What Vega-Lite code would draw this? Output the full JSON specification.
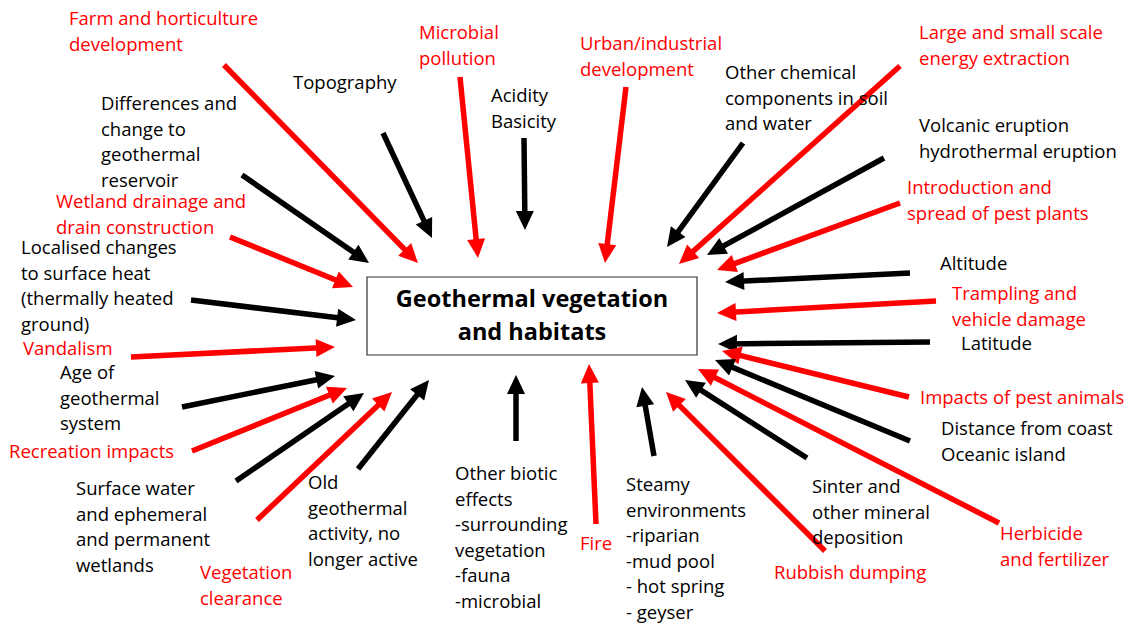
{
  "$schema": "https://vega.github.io/schema/vega-lite/v6.json",
  "width": 1133,
  "height": 624,
  "padding": 0,
  "autosize": {"type": "none"},
  "background": "white",
  "config": {"view": {"stroke": null}},
  "datasets": {
    "arrows": [
      {"label": "Farm and horticulture\ndevelopment", "kind": "human", "tx": 224, "ty": 65, "hx": 418, "hy": 263, "lx": 69, "ly": 11},
      {"label": "Topography", "kind": "natural", "tx": 383, "ty": 133, "hx": 432, "hy": 238, "lx": 293, "ly": 75},
      {"label": "Microbial\npollution", "kind": "human", "tx": 460, "ty": 77, "hx": 478, "hy": 258, "lx": 419, "ly": 25},
      {"label": "Acidity\nBasicity", "kind": "natural", "tx": 524, "ty": 138, "hx": 525, "hy": 230, "lx": 491, "ly": 88},
      {"label": "Urban/industrial\ndevelopment", "kind": "human", "tx": 626, "ty": 87, "hx": 605, "hy": 263, "lx": 580, "ly": 36},
      {"label": "Other chemical\ncomponents in soil\nand water", "kind": "natural", "tx": 743, "ty": 143, "hx": 667, "hy": 247, "lx": 725, "ly": 65},
      {"label": "Large and small scale\nenergy extraction", "kind": "human", "tx": 900, "ty": 66, "hx": 679, "hy": 264, "lx": 919, "ly": 25},
      {"label": "Volcanic eruption\nhydrothermal eruption", "kind": "natural", "tx": 884, "ty": 158, "hx": 707, "hy": 255, "lx": 919, "ly": 118},
      {"label": "Introduction and\nspread of pest plants", "kind": "human", "tx": 900, "ty": 203, "hx": 717, "hy": 270, "lx": 907, "ly": 180},
      {"label": "Altitude", "kind": "natural", "tx": 910, "ty": 273, "hx": 725, "hy": 282, "lx": 940, "ly": 256},
      {"label": "Trampling and\nvehicle damage", "kind": "human", "tx": 936, "ty": 301, "hx": 717, "hy": 313, "lx": 952, "ly": 286},
      {"label": "Latitude", "kind": "natural", "tx": 930, "ty": 342, "hx": 718, "hy": 344, "lx": 961, "ly": 336},
      {"label": "Impacts of pest animals", "kind": "human", "tx": 909, "ty": 397, "hx": 722, "hy": 351, "lx": 920, "ly": 390},
      {"label": "Distance from coast\nOceanic  island", "kind": "natural", "tx": 910, "ty": 441, "hx": 715, "hy": 360, "lx": 941, "ly": 421},
      {"label": "Herbicide\nand fertilizer", "kind": "human", "tx": 999, "ty": 523, "hx": 698, "hy": 369, "lx": 1000, "ly": 526},
      {"label": "Sinter and\nother mineral\ndeposition", "kind": "natural", "tx": 807, "ty": 458, "hx": 685, "hy": 380, "lx": 812, "ly": 479},
      {"label": "Rubbish dumping", "kind": "human", "tx": 825, "ty": 551, "hx": 666, "hy": 392, "lx": 774, "ly": 565},
      {"label": "Steamy\nenvironments\n-riparian\n-mud pool\n- hot spring\n- geyser", "kind": "natural", "tx": 654, "ty": 456, "hx": 642, "hy": 387, "lx": 626, "ly": 477},
      {"label": "Fire", "kind": "human", "tx": 596, "ty": 524, "hx": 589, "hy": 364, "lx": 580, "ly": 536},
      {"label": "Other biotic\neffects\n-surrounding\nvegetation\n-fauna\n-microbial", "kind": "natural", "tx": 516, "ty": 441, "hx": 516, "hy": 375, "lx": 455, "ly": 466},
      {"label": "Old\ngeothermal\nactivity, no\nlonger active", "kind": "natural", "tx": 358, "ty": 469, "hx": 429, "hy": 380, "lx": 308, "ly": 475},
      {"label": "Vegetation\nclearance", "kind": "human", "tx": 257, "ty": 520, "hx": 392, "hy": 392, "lx": 200, "ly": 565},
      {"label": "Surface water\nand ephemeral\nand permanent\nwetlands", "kind": "natural", "tx": 236, "ty": 481, "hx": 364, "hy": 393, "lx": 76, "ly": 481},
      {"label": "Recreation impacts", "kind": "human", "tx": 192, "ty": 451, "hx": 347, "hy": 388, "lx": 9, "ly": 444},
      {"label": "Age of\ngeothermal\nsystem", "kind": "natural", "tx": 182, "ty": 407, "hx": 335, "hy": 376, "lx": 60, "ly": 365},
      {"label": "Vandalism", "kind": "human", "tx": 131, "ty": 357, "hx": 335, "hy": 347, "lx": 23, "ly": 341},
      {"label": "Localised changes\nto surface heat\n(thermally heated\nground)", "kind": "natural", "tx": 191, "ty": 300, "hx": 356, "hy": 320, "lx": 21, "ly": 240},
      {"label": "Wetland drainage and\ndrain construction", "kind": "human", "tx": 230, "ty": 237, "hx": 353, "hy": 287, "lx": 56, "ly": 194},
      {"label": "Differences and\nchange to\ngeothermal\nreservoir", "kind": "natural", "tx": 242, "ty": 175, "hx": 369, "hy": 263, "lx": 101, "ly": 96}
    ],
    "box": [{"x1": 367, "y1": 277, "x2": 697, "y2": 355}],
    "title": [
      {"t": "Geothermal vegetation", "x": 532, "y": 300},
      {"t": "and habitats", "x": 532, "y": 333}
    ]
  },
  "layer": [
    {
      "data": {"name": "box"},
      "mark": {"type": "rect", "fill": "white", "stroke": "#333333", "strokeWidth": 1.2},
      "encoding": {
        "x": {"field": "x1", "type": "quantitative", "scale": {"domain": [0, 1133], "nice": false, "zero": false}, "axis": null},
        "x2": {"field": "x2"},
        "y": {"field": "y1", "type": "quantitative", "scale": {"domain": [0, 624], "nice": false, "zero": false, "reverse": true}, "axis": null},
        "y2": {"field": "y2"}
      }
    },
    {
      "data": {"name": "title"},
      "mark": {"type": "text", "font": "Open Sans", "fontSize": 23.5, "fontWeight": "bold", "align": "center", "baseline": "middle", "color": "black"},
      "encoding": {
        "x": {"field": "x", "type": "quantitative", "scale": {"domain": [0, 1133], "nice": false, "zero": false}, "axis": null},
        "y": {"field": "y", "type": "quantitative", "scale": {"domain": [0, 624], "nice": false, "zero": false, "reverse": true}, "axis": null},
        "text": {"field": "t"}
      }
    },
    {
      "data": {"name": "arrows"},
      "transform": [
        {"calculate": "sqrt(pow(datum.hx - datum.tx, 2) + pow(datum.hy - datum.ty, 2))", "as": "len"},
        {"calculate": "datum.hx - (datum.hx - datum.tx) / datum.len * 10", "as": "ex"},
        {"calculate": "datum.hy - (datum.hy - datum.ty) / datum.len * 10", "as": "ey"}
      ],
      "mark": {"type": "rule", "strokeWidth": 5.5, "strokeCap": "butt"},
      "encoding": {
        "x": {"field": "tx", "type": "quantitative", "scale": {"domain": [0, 1133], "nice": false, "zero": false}, "axis": null},
        "y": {"field": "ty", "type": "quantitative", "scale": {"domain": [0, 624], "nice": false, "zero": false, "reverse": true}, "axis": null},
        "x2": {"field": "ex"},
        "y2": {"field": "ey"},
        "color": {"field": "kind", "type": "nominal", "scale": {"domain": ["human", "natural"], "range": ["#ff0000", "#000000"]}, "legend": null}
      }
    },
    {
      "data": {"name": "arrows"},
      "transform": [
        {"calculate": "(atan2(datum.hx - datum.tx, -(datum.hy - datum.ty)) * 180 / PI + 360) % 360", "as": "ang"}
      ],
      "mark": {"type": "point", "shape": "M0,0L-0.95,2L0.95,2Z", "filled": true, "size": 361, "opacity": 1, "strokeWidth": 0},
      "encoding": {
        "x": {"field": "hx", "type": "quantitative", "scale": {"domain": [0, 1133], "nice": false, "zero": false}, "axis": null},
        "y": {"field": "hy", "type": "quantitative", "scale": {"domain": [0, 624], "nice": false, "zero": false, "reverse": true}, "axis": null},
        "angle": {"field": "ang", "type": "quantitative", "scale": null},
        "color": {"field": "kind", "type": "nominal", "scale": {"domain": ["human", "natural"], "range": ["#ff0000", "#000000"]}, "legend": null}
      }
    },
    {
      "data": {"name": "arrows"},
      "mark": {"type": "text", "font": "Open Sans", "fontSize": 18.5, "align": "left", "baseline": "top", "lineBreak": "\n", "lineHeight": 25.6, "dy": -1},
      "encoding": {
        "x": {"field": "lx", "type": "quantitative", "scale": {"domain": [0, 1133], "nice": false, "zero": false}, "axis": null},
        "y": {"field": "ly", "type": "quantitative", "scale": {"domain": [0, 624], "nice": false, "zero": false, "reverse": true}, "axis": null},
        "text": {"field": "label"},
        "color": {"field": "kind", "type": "nominal", "scale": {"domain": ["human", "natural"], "range": ["#ff0000", "#000000"]}, "legend": null}
      }
    }
  ]
}
